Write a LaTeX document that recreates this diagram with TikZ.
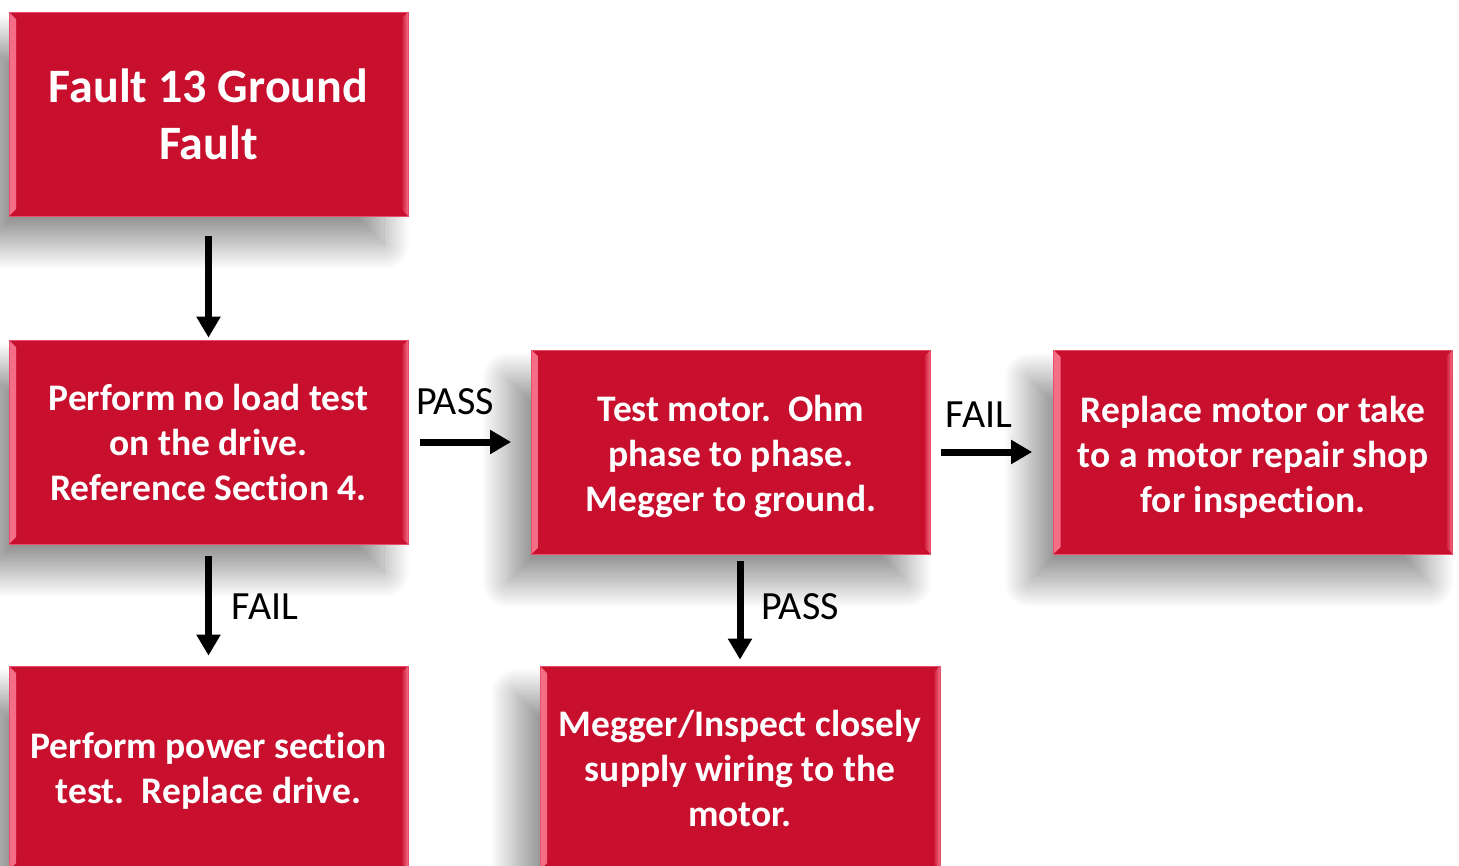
\documentclass[tikz,border=0pt]{standalone}
\usepackage{fontspec}
\setmainfont{Carlito}[Ligatures=NoCommon]
\usetikzlibrary{arrows.meta,shadows.blur}
\definecolor{boxred}{RGB}{200,16,46}
\definecolor{bevel}{RGB}{245,110,135}
\definecolor{boxedge}{RGB}{230,80,105}
\tikzset{
  boxtext/.style={text=white, font=\bfseries\fontsize{37.5}{45}\selectfont, align=center, inner sep=0pt},
  box/.style={boxtext, draw=boxedge, line width=0.8pt, fill=boxred,
    minimum width=399pt, minimum height=204pt,
    blur shadow={shadow xshift=-24pt, shadow yshift=-28pt, shadow blur radius=26pt, shadow blur steps=30, shadow opacity=42},
    path picture={
      \shade[left color=bevel, right color=boxred]
        (path picture bounding box.south west) -- (path picture bounding box.north west)
        -- ([shift={(7pt,-7pt)}]path picture bounding box.north west)
        -- ([shift={(7pt,7pt)}]path picture bounding box.south west) -- cycle;
      \shade[right color=bevel, left color=boxred]
        (path picture bounding box.south east) -- (path picture bounding box.north east)
        -- ([shift={(-7pt,-7pt)}]path picture bounding box.north east)
        -- ([shift={(-7pt,7pt)}]path picture bounding box.south east) -- cycle;
    }},
  flow/.style={line width=7pt, -{Triangle[width=23pt,length=21pt]}},
  lbl/.style={font=\fontsize{40}{44}\selectfont, text=black, inner sep=0pt}
}
\begin{document}
\begin{tikzpicture}[x=1pt,y=-1pt]
\useasboundingbox (0,0) rectangle (1459,865);
\clip (0,0) rectangle (1459,865);
\node[box, font=\bfseries\fontsize{48}{57}\selectfont] (b1) at (208.5,114) {Fault 13 Ground\\Fault};
\node[box] (b2) at (208.5,442) {Perform no load test\\on the drive.\\Reference Section 4.};
\node[box, label={[boxtext, yshift=-5pt]center:{Test motor.\ \ Ohm\\phase to phase.\\Megger to ground.}}] (b3) at (731,452) {};
\node[box, label={[boxtext, yshift=-5pt]center:{Replace motor or take\\to a motor repair shop\\for inspection.}}] (b4) at (1253,452) {};
\node[box, label={[boxtext, yshift=-3pt]center:{Perform power section\\test.\ \ Replace drive.}}] (b5) at (208.5,768) {};
\node[box, minimum width=400pt] (b6) at (740,768) {Megger/Inspect closely\\supply wiring to the\\motor.};
\draw[flow, shorten <=20pt, shorten >=2pt] (b1.south) -- (b2.north);
\draw[flow, shorten <=12pt, shorten >=20pt] (b2.east) -- (b2.east -| b3.west);
\draw[flow, shorten <=10pt, shorten >=21pt] (b3.east) -- (b4.west);
\draw[flow, shorten <=12pt, shorten >=10pt] (b2.south) -- (b5.north);
\draw[flow, shorten <=7pt, shorten >=6pt] (b6.north |- b3.south) -- (b6.north);
\node[lbl] (l1) at (455,402) {PASS};
\node[lbl] (l2) at (979,415) {FAIL};
\node[lbl] (l3) at (265,607) {FAIL};
\node[lbl] (l4) at (800,607) {PASS};
\end{tikzpicture}
\end{document}
